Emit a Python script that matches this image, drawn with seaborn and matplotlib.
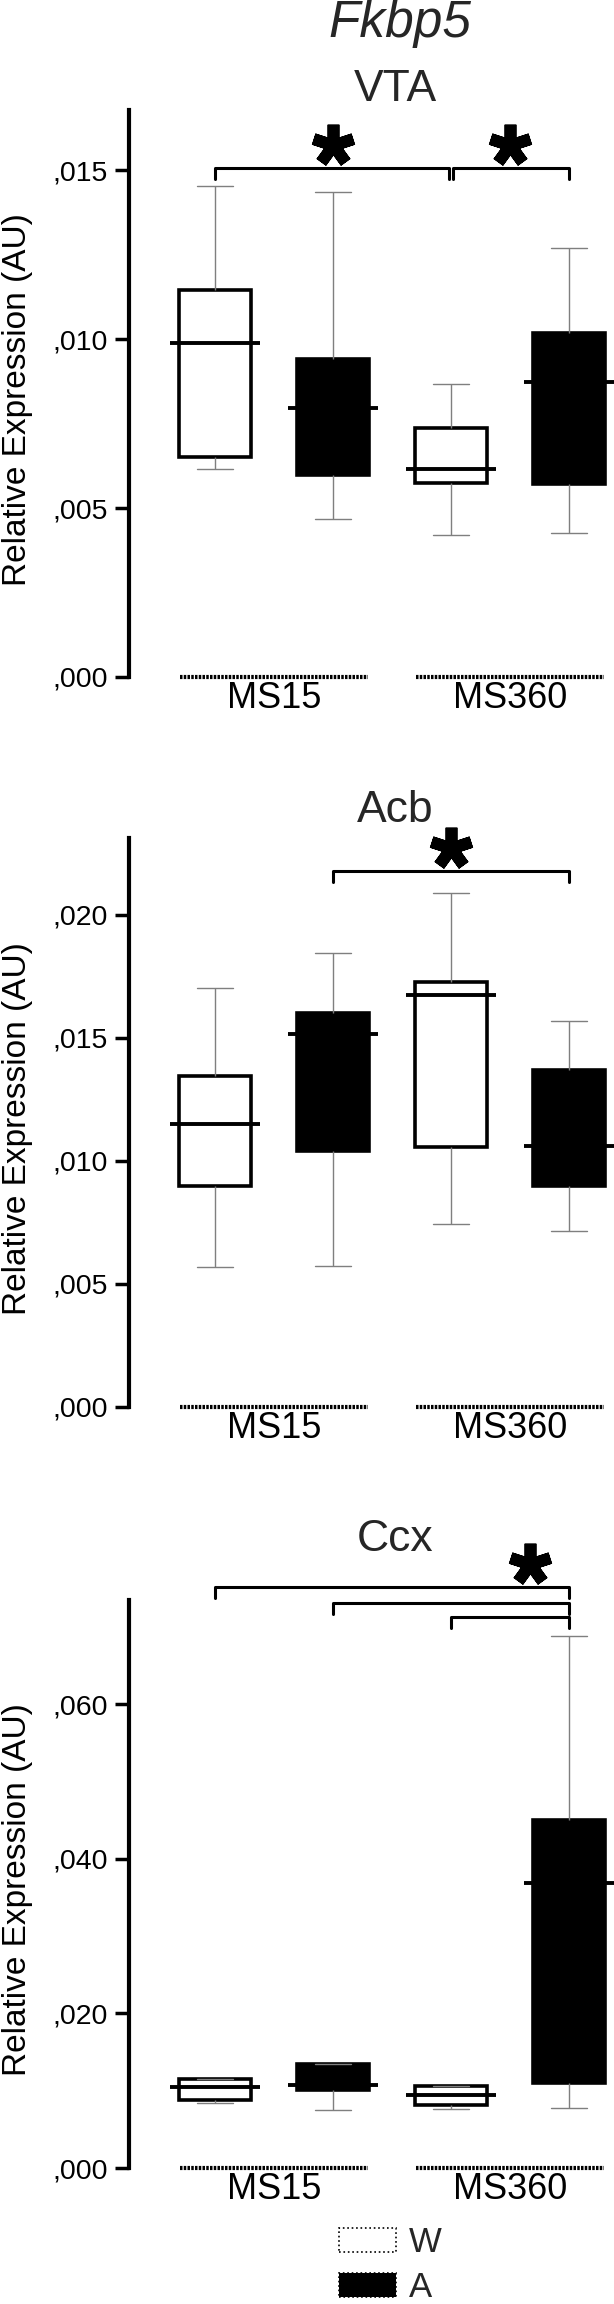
import numpy as np
import pandas as pd
import matplotlib
matplotlib.use('Agg')
import matplotlib.pyplot as plt
from matplotlib.patches import Patch
import seaborn as sns

# groups / conditions
groups = ["MS15", "MS360"]
conds = ["W", "A"]
regions = ["VTA", "Acb", "Ccx"]

# box order: MS15-W, MS15-A, MS360-W, MS360-A
vta_lo = [0.00617, 0.00469, 0.00421, 0.00427]
vta_q1 = [0.00652, 0.00598, 0.00575, 0.00571]
vta_med = [0.00989, 0.00795, 0.00616, 0.00874]
vta_q3 = [0.01144, 0.00942, 0.00736, 0.01018]
vta_hi = [0.01454, 0.01436, 0.00868, 0.01269]

acb_lo = [0.00568, 0.00571, 0.00742, 0.00715]
acb_q1 = [0.00898, 0.01039, 0.01057, 0.00898]
acb_med = [0.01148, 0.01516, 0.01674, 0.01059]
acb_q3 = [0.01344, 0.01600, 0.01726, 0.01369]
acb_hi = [0.01701, 0.01846, 0.02087, 0.01569]

ccx_lo = [0.00842, 0.00749, 0.00769, 0.00782]
ccx_q1 = [0.00882, 0.01014, 0.00815, 0.01094]
ccx_med = [0.01041, 0.01067, 0.00941, 0.03686]
ccx_q3 = [0.01147, 0.01346, 0.01061, 0.04495]
ccx_hi = [0.01147, 0.01346, 0.01061, 0.06881]

# y ticks and axis top
vta_ticks = [0.0, 0.005, 0.010, 0.015]
acb_ticks = [0.0, 0.005, 0.010, 0.015, 0.020]
ccx_ticks = [0.0, 0.020, 0.040, 0.060]
axis_top = [0.01678, 0.02312, 0.07345]

# significance brackets: (from box, to box, height)
vta_brackets = [(0, 2, 0.01506), (2, 3, 0.01506)]
acb_brackets = [(1, 3, 0.02177)]
ccx_brackets = [(0, 3, 0.07513), (1, 3, 0.07306), (2, 3, 0.07125)]
star_x = [[0.25, 1.0], [0.75], [1.085]]

stats = {
    "VTA": (vta_lo, vta_q1, vta_med, vta_q3, vta_hi),
    "Acb": (acb_lo, acb_q1, acb_med, acb_q3, acb_hi),
    "Ccx": (ccx_lo, ccx_q1, ccx_med, ccx_q3, ccx_hi),
}
ticks = [vta_ticks, acb_ticks, ccx_ticks]
brackets = [vta_brackets, acb_brackets, ccx_brackets]

sns.set_style("ticks")
plt.rcParams['font.family'] = ['Liberation Sans', 'DejaVu Sans']

fig = plt.figure(figsize=(6.14, 23.04), dpi=100)

# axes rects in pixels: (bottom px from top, top px from top)
ax_px = [(677, 110), (1407, 838), (2168, 1600)]
title_base = [101, 822, 1551]
H = 2304.0

pos = np.array([g + o for g in range(len(groups)) for o in (-0.25, 0.25)])

for k, reg in enumerate(regions):
    lo, q1, med, q3, hi = stats[reg]
    rows = []
    for b in range(4):
        g = groups[b // 2]
        c = conds[b % 2]
        for v in (lo[b], q1[b], med[b], q3[b], hi[b]):
            rows.append({"group": g, "cond": c, "value": v})
    df = pd.DataFrame(rows)

    bot, top = ax_px[k]
    ax = fig.add_axes([129 / 614, 1 - bot / H, 485 / 614, (bot - top) / H])
    sns.boxplot(data=df, x="group", y="value", hue="cond", order=groups,
                hue_order=conds, palette={"W": "white", "A": "black"},
                saturation=1, width=1, gap=0.39, whis=(0, 100),
                showfliers=False, linecolor="black", linewidth=2.6,
                whiskerprops=dict(color="#7f7f7f", linewidth=1.0),
                capprops=dict(color="#7f7f7f", linewidth=1.0),
                medianprops=dict(linewidth=0),
                legend=False, ax=ax)
    # medians a bit wider than the boxes
    ax.hlines(med, pos - 0.19, pos + 0.19, color="black", lw=2.8, zorder=5,
              clip_on=False)

    ymax = axis_top[k]
    ax.set_ylim(0, ymax)
    ax.set_xlim(-0.6144, 1.4407)

    # dotted baseline under each group
    for g in range(len(groups)):
        ax.hlines(0, g - 0.4, g + 0.4, color="black", lw=3,
                  linestyles=(0, (0.6, 0.3)), clip_on=False, zorder=6)

    tick = ymax * 11 / (bot - top)
    starts = [b[0] for b in brackets[k]]
    for i, j, yb in brackets[k]:
        # small gap where one bracket ends where the next begins
        xr = pos[j] - 0.008 if j in starts else pos[j]
        xl = pos[i] + 0.008 if any(b[1] == i for b in brackets[k]) else pos[i]
        ax.plot([xl, xl, xr, xr], [yb - tick, yb, yb, yb - tick],
                color="black", lw=2.2, clip_on=False, zorder=7)
    top_b = max(b[2] for b in brackets[k])
    for sx in star_x[k]:
        ax.plot(sx, top_b + tick * 2.1, marker=(5, 2, 0), ms=30, mew=8.5,
                color="black", clip_on=False, zorder=7)

    ax.set_yticks(ticks[k])
    ax.set_yticklabels([f"{t:.3f}".replace("0.", ",") for t in ticks[k]])
    ax.tick_params(axis="y", length=10, width=2.5, labelsize=20.5, pad=5,
                   color="black", labelcolor="black")
    ax.tick_params(axis="x", length=0, labelsize=26, pad=3, labelcolor="black")
    sns.despine(ax=ax, bottom=True)
    ax.spines["left"].set_linewidth(3)
    ax.spines["left"].set_color("black")
    ax.set_xlabel("")
    ax.set_ylabel("Relative Expression (AU)", fontsize=24, color="black")
    ax.yaxis.set_label_coords(-0.198, 0.49)

    fig.text(395 / 614, 1 - title_base[k] / H, reg, fontsize=32,
             ha="center", va="baseline")

fig.text(400 / 614, 1 - 37 / H, "Fkbp5", fontsize=37, style="italic",
         ha="center", va="baseline")

handles = [Patch(facecolor="white", edgecolor="black", linestyle=":", lw=1.2),
           Patch(facecolor="black", edgecolor="black", linestyle=":", lw=1.2)]
fig.legend(handles, conds, loc="upper left",
           bbox_to_anchor=(339 / 614, 1 - 2226 / H), frameon=False,
           fontsize=25, handlelength=1.65, handleheight=0.66,
           handletextpad=0.35, labelspacing=0.35, borderpad=0,
           borderaxespad=0)

fig.savefig("out.png", dpi=100)
